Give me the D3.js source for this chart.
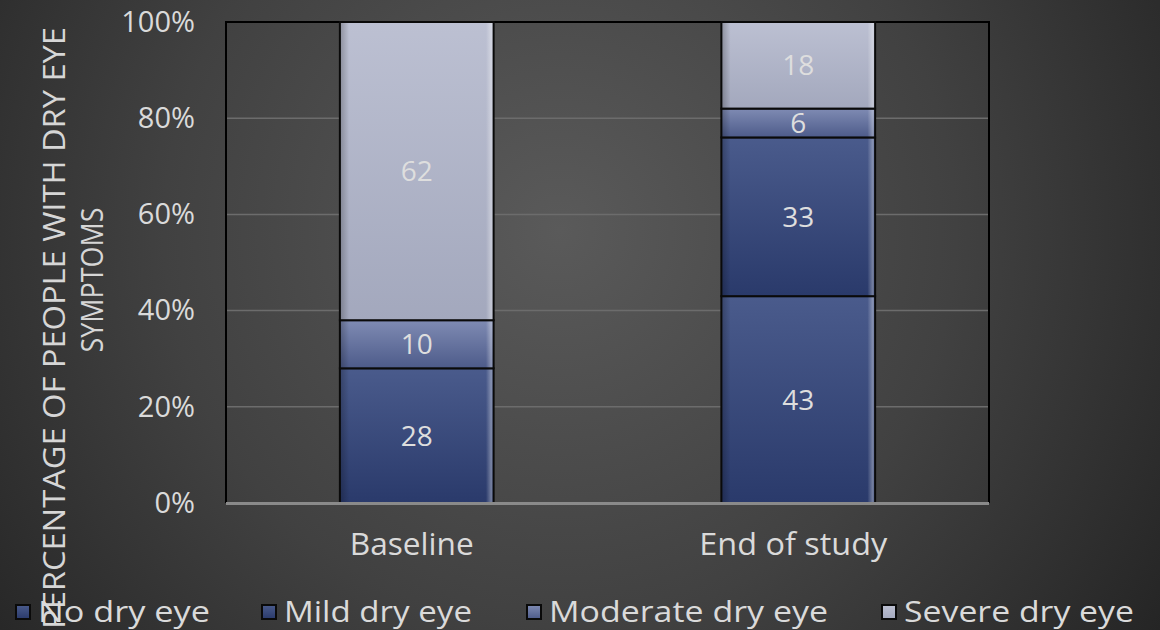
<!DOCTYPE html>
<html>
<head>
<meta charset="utf-8">
<script src="https://cdn.jsdelivr.net/npm/d3@7"></script>
<style>
  html, body { margin: 0; padding: 0; background: #2a2a2a; }
  svg { display: block; }
  text { font-family: "Open Sans", "DejaVu Sans", sans-serif; }
</style>
</head>
<body>
<svg id="chart" width="1160" height="630"></svg>
<script>
// Categories and stacked series (percentages of participants)
const categories = ["Baseline", "End of study"];
const seriesNames = ["No dry eye", "Mild dry eye", "Moderate dry eye", "Severe dry eye"];
const noDryEye = [0, 43];
const mildDryEye = [28, 33];
const moderateDryEye = [10, 6];
const severeDryEye = [62, 18];
const yTicks = [0, 20, 40, 60, 80, 100];

const seriesValues = [noDryEye, mildDryEye, moderateDryEye, severeDryEye];
const rows = categories.map((c, i) => {
  const r = { category: c };
  seriesNames.forEach((s, j) => { r[s] = seriesValues[j][i]; });
  return r;
});

const W = 1160, H = 630;
const plot = { left: 226, right: 989, top: 22, bottom: 503 };

const svg = d3.select("#chart");
const defs = svg.append("defs");

// Dark radial backdrop
const bg = defs.append("radialGradient").attr("id", "bg")
  .attr("cx", 560).attr("cy", 230).attr("r", 720)
  .attr("gradientUnits", "userSpaceOnUse");
bg.append("stop").attr("offset", "0").attr("stop-color", "#5a5a5a");
bg.append("stop").attr("offset", "0.55").attr("stop-color", "#414141");
bg.append("stop").attr("offset", "1").attr("stop-color", "#252525");
svg.append("rect").attr("width", W).attr("height", H).attr("fill", "url(#bg)");

// Per-series fill gradients (lighter at the top of each segment)
const fills = [
  ["#4a5b8c", "#2a3a6b"],
  ["#4a5b8c", "#2a3a6b"],
  ["#7f8bb3", "#4d5b8a"],
  ["#bcc0d2", "#a3a8bd"]
];
fills.forEach((f, i) => {
  const g = defs.append("linearGradient").attr("id", "fill" + i)
    .attr("x1", 0).attr("y1", 0).attr("x2", 0).attr("y2", 1);
  g.append("stop").attr("offset", "0").attr("stop-color", f[0]);
  g.append("stop").attr("offset", "1").attr("stop-color", f[1]);
});
// Soft edge sheen along the sides of each bar
const sheen = defs.append("linearGradient").attr("id", "sheen")
  .attr("x1", 0).attr("y1", 0).attr("x2", 1).attr("y2", 0);
sheen.append("stop").attr("offset", "0").attr("stop-color", "#000").attr("stop-opacity", 0.25);
sheen.append("stop").attr("offset", "0.06").attr("stop-color", "#000").attr("stop-opacity", 0);
sheen.append("stop").attr("offset", "0.95").attr("stop-color", "#fff").attr("stop-opacity", 0);
sheen.append("stop").attr("offset", "0.985").attr("stop-color", "#fff").attr("stop-opacity", 0.35);
sheen.append("stop").attr("offset", "1").attr("stop-color", "#fff").attr("stop-opacity", 0.1);

const x = d3.scaleBand().domain(categories)
  .range([plot.left, plot.right]).paddingInner(0.597).paddingOuter(0.2985);
const y = d3.scaleLinear().domain([0, 100]).range([plot.bottom, plot.top]);

// Horizontal gridlines
svg.append("g").selectAll("line").data(yTicks.filter(t => t > 0 && t < 100)).join("line")
  .attr("x1", plot.left).attr("x2", plot.right)
  .attr("y1", d => y(d)).attr("y2", d => y(d))
  .attr("stroke", "#6c6c6c").attr("stroke-width", 1.5);

// Plot frame: black on left, top and right
svg.append("path")
  .attr("d", `M${plot.left},${plot.bottom} V${plot.top} H${plot.right} V${plot.bottom}`)
  .attr("fill", "none").attr("stroke", "#000").attr("stroke-width", 2);

// Stacked bars
const stack = d3.stack().keys(seriesNames)(rows);
const layers = svg.append("g").selectAll("g").data(stack).join("g");
layers.each(function (layer, i) {
  const g = d3.select(this);
  const segs = g.selectAll("g").data(layer.filter(d => d[1] - d[0] > 0)).join("g");
  segs.append("rect")
    .attr("x", d => x(d.data.category))
    .attr("y", d => y(d[1]))
    .attr("width", x.bandwidth())
    .attr("height", d => y(d[0]) - y(d[1]))
    .attr("fill", "url(#fill" + i + ")");
  segs.append("rect")
    .attr("x", d => x(d.data.category))
    .attr("y", d => y(d[1]))
    .attr("width", x.bandwidth())
    .attr("height", d => y(d[0]) - y(d[1]))
    .attr("fill", "url(#sheen)")
    .attr("stroke", "#0a0a0a").attr("stroke-width", 2);
  segs.append("text")
    .attr("x", d => x(d.data.category) + x.bandwidth() / 2)
    .attr("y", d => (y(d[0]) + y(d[1])) / 2)
    .attr("dy", "0.36em")
    .attr("text-anchor", "middle")
    .attr("font-size", 28)
    .attr("fill", "#dedede")
    .text(d => d[1] - d[0]);
});

// Bottom axis line
svg.append("line")
  .attr("x1", plot.left).attr("x2", plot.right)
  .attr("y1", plot.bottom + 0.5).attr("y2", plot.bottom + 0.5)
  .attr("stroke", "#8a8a8a").attr("stroke-width", 3);

// Y axis tick labels
const yAxis = d3.axisLeft(y).tickValues(yTicks).tickSize(0).tickPadding(0)
  .tickFormat(d => d + "%");
const yg = svg.append("g").attr("transform", `translate(195,0)`).call(yAxis);
yg.select(".domain").remove();
yg.selectAll("text").attr("font-size", 29).attr("fill", "#dadada")
  .attr("font-family", "'Open Sans', sans-serif");

// X axis category labels
const catWidths = [124, 188];
const xAxis = d3.axisBottom(x).tickSize(0).tickPadding(0);
const xg = svg.append("g").attr("transform", `translate(-5,${plot.bottom + 30})`).call(xAxis);
xg.select(".domain").remove();
xg.selectAll("text").attr("font-size", 31).attr("fill", "#dadada")
  .attr("font-family", "'Open Sans', sans-serif")
  .attr("textLength", (d, i) => catWidths[i]).attr("lengthAdjust", "spacingAndGlyphs");

// Y axis title (two lines, rotated)
const title = svg.append("g").attr("fill", "#d6d6d6");
title.append("text")
  .attr("transform", "translate(65,328) rotate(-90)")
  .attr("text-anchor", "middle")
  .attr("font-size", 31)
  .attr("textLength", 602).attr("lengthAdjust", "spacingAndGlyphs")
  .text("PERCENTAGE OF PEOPLE WITH DRY EYE");
title.append("text")
  .attr("transform", "translate(103,280) rotate(-90)")
  .attr("text-anchor", "middle")
  .attr("font-size", 31)
  .attr("textLength", 145).attr("lengthAdjust", "spacingAndGlyphs")
  .text("SYMPTOMS");

// Legend
const legendX = [16, 262, 527, 882];
const legendTextW = [172, 188, 279, 230];
const lg = svg.append("g").selectAll("g").data(seriesNames).join("g")
  .attr("transform", (d, i) => `translate(${legendX[i]},612)`);
lg.append("rect").attr("x", 0).attr("y", -7).attr("width", 14).attr("height", 14)
  .attr("fill", (d, i) => `url(#fill${i})`)
  .attr("stroke", "#0a0a0a").attr("stroke-width", 2);
lg.append("text").attr("x", 22).attr("dy", "0.36em")
  .attr("font-size", 29).attr("fill", "#dadada")
  .attr("textLength", (d, i) => legendTextW[i]).attr("lengthAdjust", "spacingAndGlyphs")
  .text(d => d);
</script>
</body>
</html>
